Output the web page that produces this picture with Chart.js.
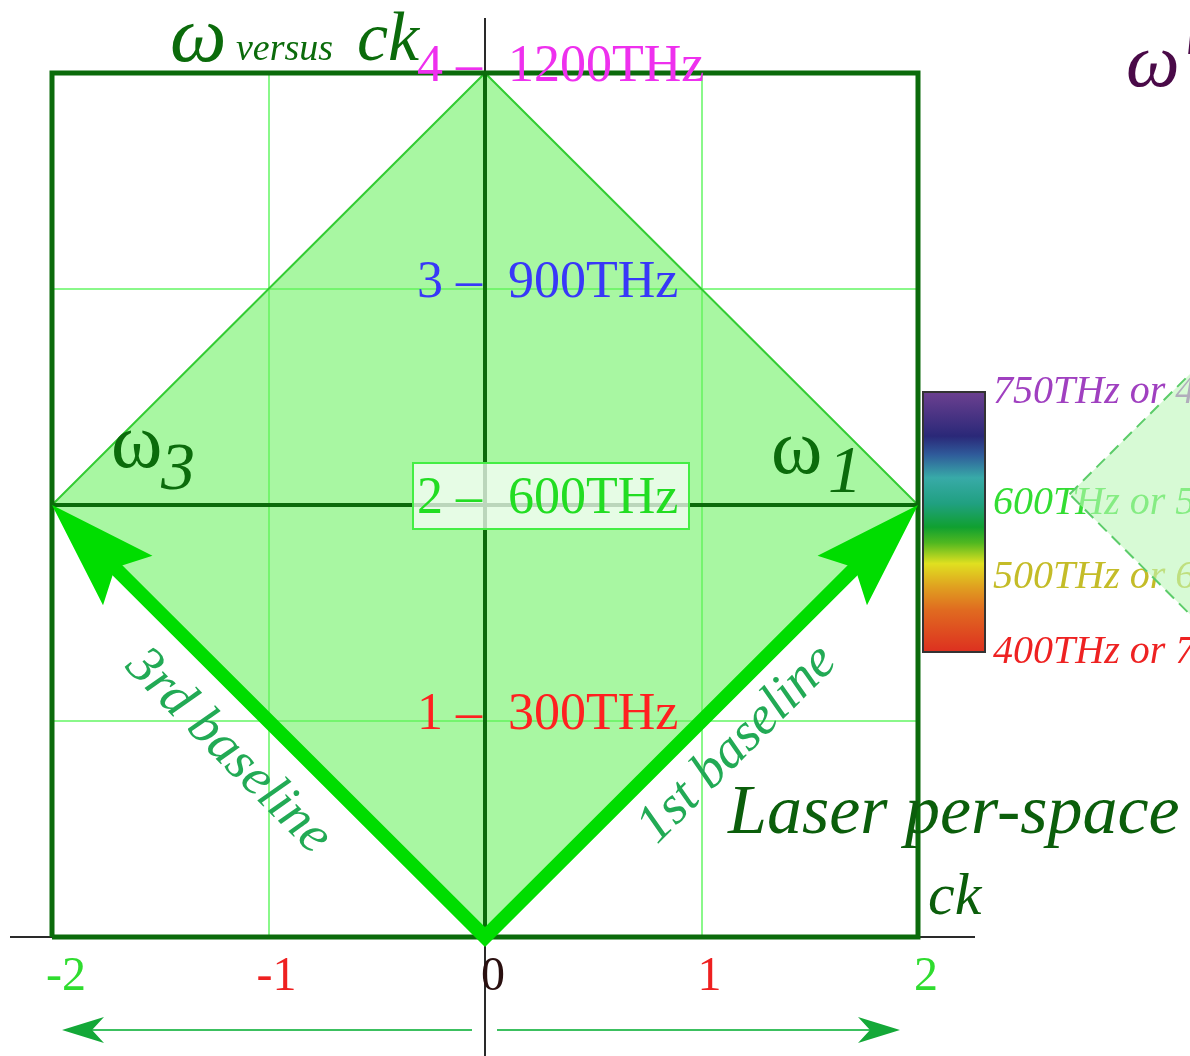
<!DOCTYPE html>
<html>
<head>
<meta charset="utf-8">
<title>ω versus ck</title>
<script src="https://cdn.jsdelivr.net/npm/chart.js@4.4.0/dist/chart.umd.min.js"></script>
<style>
  html, body { margin: 0; padding: 0; background: #fff; }
  canvas { display: block; }
</style>
</head>
<body>
<canvas id="dispersion" width="1190" height="1056"></canvas>
<script>
// ck axis and omega axis, one unit = 300THz
const ckTicks = [-2, -1, 0, 1, 2];
const ckTickColors = ['#2fdc2f', '#ee2020', '#2a1010', '#ee2020', '#2fdc2f'];
const omegaTicks = [0, 1, 2, 3, 4];
const omegaFreqLabels = ['', '300THz', '600THz', '900THz', '1200THz'];
const omegaTickColors = ['', '#ff2020', '#22dd22', '#3838f8', '#ee30ee'];

// light-cone diamond
const diamondCk = [0, 2, 0, -2, 0];
const diamondOmega = [0, 2, 4, 2, 0];

// baseline vectors from the origin
const firstBaselineCk = [0, 2];
const firstBaselineOmega = [0, 2];
const thirdBaselineCk = [0, -2];
const thirdBaselineOmega = [0, 2];

// diamond of the next panel (only its left corner shows)
const nextDiamondCk = [2.7, 4.7, 6.7, 4.7, 2.7];
const nextDiamondOmega = [2.05, 4.05, 2.05, 0.05, 2.05];

// visible spectrum bar
const spectrumTHz = [750, 600, 500, 400];
const spectrumNm = ['400nm', '500nm', '600nm', '750nm'];
const spectrumLabelColors = ['#a040c0', '#33dd33', '#c4bc28', '#ee2222'];

const SERIF = '"Liberation Serif", "Times New Roman", serif';
const DARK_GREEN = '#0b6b0b';

const pts = (xs, ys) => xs.map((x, i) => ({ x, y: ys[i] }));

function text(ctx, str, x, y, font, color, align, baseline) {
  ctx.font = font;
  ctx.fillStyle = color;
  ctx.textAlign = align || 'left';
  ctx.textBaseline = baseline || 'alphabetic';
  ctx.fillText(str, x, y);
}

function arrowHead(ctx, tip, u, len, half, notch, color) {
  const v = { x: -u.y, y: u.x };
  ctx.beginPath();
  ctx.moveTo(tip.x, tip.y);
  ctx.lineTo(tip.x - len * u.x + half * v.x, tip.y - len * u.y + half * v.y);
  ctx.lineTo(tip.x - (len - notch) * u.x, tip.y - (len - notch) * u.y);
  ctx.lineTo(tip.x - len * u.x - half * v.x, tip.y - len * u.y - half * v.y);
  ctx.closePath();
  ctx.fillStyle = color;
  ctx.fill();
}

// black coordinate axes, running past the frame
const axesPlugin = {
  id: 'axes',
  beforeDatasetsDraw(chart) {
    const { ctx, scales: { x, y } } = chart;
    const x0 = x.getPixelForValue(0);
    const y0 = y.getPixelForValue(0);
    ctx.save();
    ctx.strokeStyle = '#2a2a2a';
    ctx.lineWidth = 2;
    ctx.beginPath();
    ctx.moveTo(x0, 18);
    ctx.lineTo(x0, chart.height);
    ctx.moveTo(10, y0);
    ctx.lineTo(x.getPixelForValue(2) + 57, y0);
    ctx.stroke();
    ctx.restore();
  }
};

// thick baseline arrows
const baselinePlugin = {
  id: 'baselines',
  afterDatasetsDraw(chart) {
    const { ctx, scales: { x, y } } = chart;
    const ends = [
      [thirdBaselineCk, thirdBaselineOmega],
      [firstBaselineCk, firstBaselineOmega]
    ].map(([cks, oms]) => {
      const p0 = { x: x.getPixelForValue(cks[0]), y: y.getPixelForValue(oms[0]) };
      const p1 = { x: x.getPixelForValue(cks[1]), y: y.getPixelForValue(oms[1]) };
      const d = Math.hypot(p1.x - p0.x, p1.y - p0.y);
      return { p0, p1, u: { x: (p1.x - p0.x) / d, y: (p1.y - p0.y) / d } };
    });
    ctx.save();
    ctx.strokeStyle = '#00dd00';
    ctx.lineWidth = 14;
    ctx.lineJoin = 'miter';
    ctx.beginPath();
    const [a, b] = ends;
    ctx.moveTo(a.p1.x - 70 * a.u.x, a.p1.y - 70 * a.u.y);
    ctx.lineTo(a.p0.x, a.p0.y);
    ctx.lineTo(b.p1.x - 70 * b.u.x, b.p1.y - 70 * b.u.y);
    ctx.stroke();
    ends.forEach(e => arrowHead(ctx, e.p1, e.u, 107, 35, 18, '#00dd00'));
    ctx.restore();
  }
};

// labels, spectrum bar and the rest of the annotation
const labelPlugin = {
  id: 'labels',
  afterDraw(chart) {
    const { ctx, scales: { x, y } } = chart;
    const x0 = x.getPixelForValue(0);
    ctx.save();

    // frequency ticks on the omega axis
    omegaTicks.forEach((v, i) => {
      if (!omegaFreqLabels[i]) return;
      const py = y.getPixelForValue(v) - 6;
      if (v === 2) {
        ctx.fillStyle = 'rgba(255,255,255,0.72)';
        ctx.fillRect(x0 - 72, py - 36, 276, 66);
        ctx.strokeStyle = '#44ee44';
        ctx.lineWidth = 2;
        ctx.strokeRect(x0 - 72, py - 36, 276, 66);
      }
      const font = '52px ' + SERIF;
      text(ctx, v + ' \u2013', x0 - 3, py, font, omegaTickColors[i], 'right', 'middle');
      text(ctx, omegaFreqLabels[i], x0 + 23, py, font, omegaTickColors[i], 'left', 'middle');
    });

    // ck ticks
    ckTicks.forEach((v, i) => {
      text(ctx, String(v), x.getPixelForValue(v) + (v === -2 ? 14 : 8), 990, '48px ' + SERIF, ckTickColors[i], 'center');
    });

    // left / right direction arrows under the axis
    const ay = 1030;
    ctx.strokeStyle = '#3cc060';
    ctx.lineWidth = 2;
    ctx.beginPath();
    ctx.moveTo(x0 - 13, ay);
    ctx.lineTo(x.getPixelForValue(-2) + 30, ay);
    ctx.moveTo(x0 + 12, ay);
    ctx.lineTo(x.getPixelForValue(2) - 40, ay);
    ctx.stroke();
    arrowHead(ctx, { x: x.getPixelForValue(-2) + 10, y: ay }, { x: -1, y: 0 }, 42, 13, 12, '#14a838');
    arrowHead(ctx, { x: x.getPixelForValue(2) - 18, y: ay }, { x: 1, y: 0 }, 42, 13, 12, '#14a838');

    // titles and omega labels
    text(ctx, 'ω', 170, 61, 'italic 80px ' + SERIF, DARK_GREEN);
    text(ctx, 'versus', 236, 60, 'italic 38px ' + SERIF, DARK_GREEN);
    text(ctx, 'ck', 357, 60, 'italic 70px ' + SERIF, DARK_GREEN);
    text(ctx, 'ω\u2032 versus ck\u2032', 1126, 86, 'italic 76px ' + SERIF, '#4a0a48');

    text(ctx, 'ω', 111, 467, '78px ' + SERIF, DARK_GREEN);
    text(ctx, '3', 161, 489, 'italic 68px ' + SERIF, DARK_GREEN);
    text(ctx, 'ω', 771, 473, '78px ' + SERIF, DARK_GREEN);
    text(ctx, '1', 828, 492, 'italic 68px ' + SERIF, DARK_GREEN);

    text(ctx, 'Laser per-space', 728, 833, 'italic 70px ' + SERIF, '#0b5e0b');
    text(ctx, 'ck', 928, 914, 'italic 60px ' + SERIF, '#0b5e0b');

    // baseline captions along the arrows
    const captions = [
      { cks: thirdBaselineCk, oms: thirdBaselineOmega, str: '3rd baseline', off: 50, shift: -7 },
      { cks: firstBaselineCk, oms: firstBaselineOmega, str: '1st baseline', off: 42, shift: 9 }
    ];
    captions.forEach(c => {
      const p0 = { x: x.getPixelForValue(c.cks[0]), y: y.getPixelForValue(c.oms[0]) };
      const p1 = { x: x.getPixelForValue(c.cks[1]), y: y.getPixelForValue(c.oms[1]) };
      const d = Math.hypot(p1.x - p0.x, p1.y - p0.y);
      let u = { x: (p1.x - p0.x) / d, y: (p1.y - p0.y) / d };
      if (u.x < 0) u = { x: -u.x, y: -u.y };
      const n = { x: -u.y, y: u.x };
      const s = n.y > 0 ? 1 : -1;
      const cx = (p0.x + p1.x) / 2 + s * c.off * n.x + c.shift * u.x;
      const cy = (p0.y + p1.y) / 2 + s * c.off * n.y + c.shift * u.y;
      ctx.save();
      ctx.translate(cx, cy);
      ctx.rotate(Math.atan2(u.y, u.x));
      text(ctx, c.str, 0, 0, 'italic 54px ' + SERIF, '#22aa55', 'center', 'middle');
      ctx.restore();
    });

    // spectrum bar
    const bar = { left: 923, top: 392, w: 62, h: 260 };
    const g = ctx.createLinearGradient(0, bar.top, 0, bar.top + bar.h);
    [[0, '#6c4090'], [0.17, '#2a2878'], [0.24, '#2f5a9a'], [0.33, '#38aaa8'],
     [0.43, '#20a080'], [0.52, '#10a030'], [0.58, '#50b820'], [0.66, '#e0e020'],
     [0.75, '#e0a020'], [0.84, '#e06a20'], [1, '#dd3020']].forEach(([t, c]) => g.addColorStop(t, c));
    ctx.fillStyle = g;
    ctx.fillRect(bar.left, bar.top, bar.w, bar.h);
    ctx.strokeStyle = '#333';
    ctx.lineWidth = 2;
    ctx.strokeRect(bar.left, bar.top, bar.w, bar.h);
    spectrumTHz.forEach((f, i) => {
      const py = bar.top + bar.h - (f - 400) / 350 * bar.h;
      text(ctx, f + 'THz or ' + spectrumNm[i], 993, py, 'italic 40px ' + SERIF, spectrumLabelColors[i], 'left', 'middle');
    });

    // next panel diamond, dashed
    ctx.beginPath();
    nextDiamondCk.forEach((v, i) => {
      const px = x.getPixelForValue(v);
      const py = y.getPixelForValue(nextDiamondOmega[i]);
      if (i === 0) ctx.moveTo(px, py); else ctx.lineTo(px, py);
    });
    ctx.closePath();
    ctx.fillStyle = 'rgba(188,247,185,0.6)';
    ctx.fill();
    ctx.setLineDash([12, 7]);
    ctx.strokeStyle = '#5ccc6a';
    ctx.lineWidth = 2;
    ctx.stroke();
    ctx.restore();
  }
};

const gridColor = (keep) => (c) => (c.tick && keep.includes(c.tick.value) ? '#8af88a' : 'transparent');

new Chart(document.getElementById('dispersion'), {
  type: 'scatter',
  data: {
    datasets: [
      {
        // outer frame
        data: pts([-2, 2, 2, -2, -2], [0, 0, 4, 4, 0]),
        showLine: true, borderColor: DARK_GREEN, borderWidth: 5,
        pointRadius: 0, fill: false, clip: false, order: 1
      },
      {
        data: pts([0, 0], [0, 4]),
        showLine: true, borderColor: DARK_GREEN, borderWidth: 4,
        pointRadius: 0, clip: false, order: 2
      },
      {
        data: pts([-2, 2], [2, 2]),
        showLine: true, borderColor: DARK_GREEN, borderWidth: 4,
        pointRadius: 0, clip: false, order: 2
      },
      {
        // light cone
        data: pts(diamondCk, diamondOmega),
        showLine: true, fill: 'shape',
        backgroundColor: 'rgba(100,240,90,0.56)',
        borderColor: '#33cc33', borderWidth: 2,
        pointRadius: 0, clip: false, order: 3
      }
    ]
  },
  options: {
    responsive: false,
    devicePixelRatio: 1,
    animation: false,
    events: [],
    layout: { padding: { left: 52, right: 272, top: 73, bottom: 119 } },
    plugins: { legend: { display: false }, tooltip: { enabled: false } },
    scales: {
      x: {
        type: 'linear', min: -2, max: 2,
        ticks: { stepSize: 1, display: false },
        grid: { color: gridColor([-1, 1]), lineWidth: 2, drawTicks: false },
        border: { display: false },
        afterFit: s => { s.height = 0; }
      },
      y: {
        type: 'linear', min: 0, max: 4,
        ticks: { stepSize: 1, display: false },
        grid: { color: gridColor([1, 3]), lineWidth: 2, drawTicks: false },
        border: { display: false },
        afterFit: s => { s.width = 0; }
      }
    }
  },
  plugins: [axesPlugin, baselinePlugin, labelPlugin]
});
</script>
</body>
</html>
